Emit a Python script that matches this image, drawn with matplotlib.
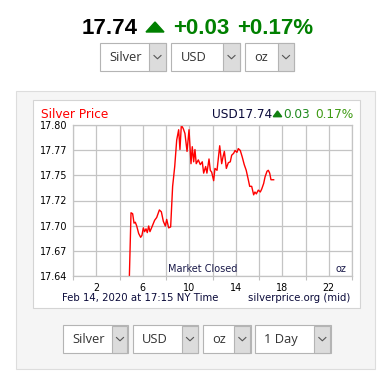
import matplotlib.pyplot as plt
from matplotlib.patches import Rectangle, Polygon
from matplotlib.lines import Line2D
import numpy as np

# intraday silver price, hours (NY time) and USD/oz
hours = [4.85, 4.99, 5.13, 5.25, 5.36, 5.48, 5.65, 5.82, 5.93, 6.05, 6.16, 6.28,
         6.39, 6.51, 6.62, 6.79, 7.02, 7.2, 7.43, 7.6, 7.77, 7.94, 8.06, 8.23,
         8.4, 8.57, 8.75, 8.92, 9.09, 9.2, 9.32, 9.49, 9.63, 9.81, 9.98, 10.15,
         10.26, 10.38, 10.49, 10.6, 10.78, 10.95, 11.12, 11.24, 11.41, 11.52,
         11.7, 11.81, 11.93, 12.1, 12.21, 12.39, 12.62, 12.79, 12.9, 13.02,
         13.19, 13.36, 13.53, 13.65, 13.82, 13.94, 14.1, 14.22, 14.39, 14.56,
         14.73, 14.9, 15.08, 15.2, 15.37, 15.54, 15.65, 15.77, 15.94, 16.11,
         16.23, 16.4, 16.52, 16.69, 16.8, 16.92, 17.03, 17.26]
prices = [17.64, 17.707, 17.706, 17.696, 17.697, 17.693, 17.685, 17.681, 17.683,
          17.691, 17.687, 17.69, 17.686, 17.693, 17.687, 17.692, 17.699, 17.702,
          17.71, 17.708, 17.698, 17.693, 17.70, 17.691, 17.692, 17.735, 17.756,
          17.784, 17.795, 17.774, 17.80, 17.796, 17.791, 17.772, 17.795, 17.759,
          17.777, 17.761, 17.774, 17.759, 17.763, 17.758, 17.761, 17.749, 17.756,
          17.749, 17.764, 17.752, 17.750, 17.741, 17.754, 17.752, 17.778, 17.759,
          17.766, 17.772, 17.754, 17.760, 17.761, 17.768, 17.770, 17.773, 17.771,
          17.775, 17.773, 17.766, 17.758, 17.752, 17.742, 17.735, 17.735, 17.726,
          17.729, 17.727, 17.731, 17.729, 17.732, 17.738, 17.745, 17.751, 17.752,
          17.749, 17.742, 17.742]

ytick_labels = ['17.64', '17.67', '17.70', '17.72', '17.75', '17.77', '17.80']
xtick_labels = ['2', '6', '10', '14', '18', '22']
top_selects = [('Silver', 100, 149, 166), ('USD', 171, 223, 240), ('oz', 245, 278, 294)]
bottom_selects = [('Silver', 62.7, 112, 128), ('USD', 132.7, 182, 198),
                  ('oz', 202.7, 234, 250.7), ('1 Day', 254.7, 314, 330.7)]

W, H = 386, 371
fig = plt.figure(figsize=(W / 100, H / 100), dpi=100)
fig.patch.set_facecolor('white')


def fx(x):
    return x / W


def fy(y):
    return 1 - y / H


def box(x0, y0, x1, y1, fc, ec, z=1, lw=0.8):
    r = Rectangle((fx(x0), fy(y1)), (x1 - x0) / W, (y1 - y0) / H,
                  transform=fig.transFigure, facecolor=fc, edgecolor=ec,
                  linewidth=lw, zorder=z)
    fig.patches.append(r)


def select(label, x0, xa, x1, y0, y1):
    box(x0, y0, x1, y1, 'white', '#b4b4b4')
    box(xa, y0 + 0.5, x1 - 0.5, y1 - 0.5, '#dcdcdc', '#b4b4b4')
    cx, cy = (xa + x1) / 2, (y0 + y1) / 2
    fig.lines.append(Line2D([fx(cx - 3.5), fx(cx), fx(cx + 3.5)],
                            [fy(cy - 1.5), fy(cy + 1.8), fy(cy - 1.5)],
                            transform=fig.transFigure, color='#555555', lw=0.8))
    fig.text(fx(x0 + 9.5), fy(cy + 0.5), label, fontsize=9.3, family='Open Sans',
             color='#333333', ha='left', va='center')


# headline
fig.text(fx(82), fy(28), '17.74', fontsize=16, weight='bold', family='Liberation Sans',
         color='black', ha='left', va='center')
tri = Polygon([[fx(146), fy(32)], [fx(164), fy(32)], [fx(155), fy(22)]],
              closed=True, transform=fig.transFigure, color='#008000')
fig.patches.append(tri)
fig.text(fx(173), fy(28), '+0.03', fontsize=16, weight='bold', family='Liberation Sans',
         color='#008000', ha='left', va='center')
fig.text(fx(237), fy(28), '+0.17%', fontsize=16, weight='bold', family='Liberation Sans',
         color='#008000', ha='left', va='center')
for lab, a, b, c in top_selects:
    select(lab, a, b, c, 43, 71)

# panel and chart background
box(16, 91, 375, 369, '#f5f5f5', '#dddddd', z=-3)
box(33, 100, 360, 308, 'white', '#d4d4d4', z=-2)

ax = fig.add_axes([fx(73), fy(276), 279 / W, 151 / H])
ax.plot(hours, prices, color='#ff0000', lw=1.0)
ax.set_xlim(0, 24)
ax.set_ylim(17.64, 17.80)
ax.set_yticks(np.linspace(17.64, 17.80, 7))
ax.set_yticklabels(ytick_labels)
ax.set_xticks(np.arange(0, 25, 4))
ax.set_xticklabels([])
ax.set_xticks(np.arange(2, 24, 4), minor=True)
ax.set_xticklabels(xtick_labels, minor=True)
ax.tick_params(axis='y', length=0, pad=4.3, labelsize=6.9, colors='black')
ax.tick_params(axis='x', which='major', length=3, width=0.8, color='#c0c0c0')
ax.tick_params(axis='x', which='minor', length=0, pad=5, labelsize=6.9, labelcolor='black')
ax.grid(True, which='both', color='#c4c4c4', lw=0.9)
ax.set_axisbelow(True)
for s in ax.spines.values():
    s.set_color('#c4c4c4')
    s.set_linewidth(0.9)

fig.text(fx(40.7), fy(114), 'Silver Price', fontsize=8.7, color='#ff0000',
         ha='left', va='center')
fig.text(fx(212), fy(114), 'USD17.74', fontsize=8.7, color='#0a0a3a',
         ha='left', va='center')
tri2 = Polygon([[fx(273.3), fy(116.7)], [fx(281.7), fy(116.7)], [fx(277.5), fy(111)]],
               closed=True, transform=fig.transFigure, color='#108010')
fig.patches.append(tri2)
fig.text(fx(283.3), fy(114), '0.03', fontsize=8.7, color='#1f8a1f',
         ha='left', va='center')
fig.text(fx(354), fy(114), '0.17%', fontsize=8.7, color='#3d9a12',
         ha='right', va='center')
fig.text(fx(167.7), fy(269), 'Market Closed', fontsize=7, color='#1a1a4a',
         ha='left', va='center')
fig.text(fx(346.7), fy(269), 'oz', fontsize=7, color='#1a1a4a',
         ha='right', va='center')
fig.text(fx(61.7), fy(298), 'Feb 14, 2020 at 17:15 NY Time', fontsize=7.3,
         color='#0a0a3a', ha='left', va='center')
fig.text(fx(350), fy(298), 'silverprice.org (mid)', fontsize=7.3,
         color='#0a0a3a', ha='right', va='center')

for lab, a, b, c in bottom_selects:
    select(lab, a, b, c, 325, 353)

fig.savefig('out.png', dpi=100, facecolor='white')
